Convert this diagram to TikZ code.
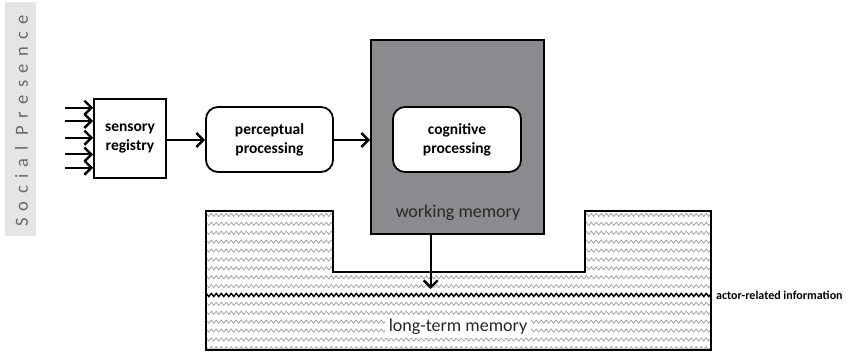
\documentclass[tikz,border=0pt]{standalone}
\usepackage{fontspec}
\setmainfont{Carlito}
\newfontfamily\spacedfont[LetterSpace=40]{Carlito}
\usetikzlibrary{arrows.meta,decorations.pathmorphing}
\definecolor{wmgray}{RGB}{138,139,143}
\definecolor{barbg}{RGB}{229,229,229}
\definecolor{zzgray}{RGB}{155,155,155}
\definecolor{sptext}{RGB}{105,105,105}
\definecolor{wmtext}{RGB}{40,40,40}
\begin{document}
\begin{tikzpicture}[x=1pt,y=-1pt,
  boxline/.style={draw=black,line width=1.8pt},
  sqbox/.style={boxline,inner sep=0pt,align=center,font=\fontsize{15.5}{19}\selectfont\bfseries},
  rbox/.style={sqbox,rounded corners=12pt,fill=white},
  arr/.style={line width=2pt,-{Straight Barb[length=7pt,width=14pt,line width=2.4pt]}},
  zz/.style={draw=zzgray,line width=0.7pt,decorate,decoration={zigzag,segment length=5pt,amplitude=1.6pt}},
  thickzz/.style={draw=black,line width=1.4pt,decorate,decoration={zigzag,segment length=5pt,amplitude=1.6pt}},
]
\useasboundingbox (0,0) rectangle (857,352);

% Social presence bar
\fill[barbg] (5,2) rectangle (36,236);
\node[rotate=90,text=sptext,font=\fontsize{18.5}{20}\selectfont] (sp) at (21.5,121) {\spacedfont Social Presence};

% long-term memory shape
\begin{scope}
  \clip (206,211) -- (333,211) -- (333,272) -- (585,272) -- (585,211) -- (711,211) -- (711,350) -- (206,350) -- cycle;
  \foreach \i in {0,...,8} \draw[zz] (200,{215+8.89*\i}) -- (720,{215+8.89*\i});
  \foreach \i in {1,...,6} \draw[zz] (200,{295+8.89*\i}) -- (720,{295+8.89*\i});
  \draw[thickzz] (200,295) -- (720,295);
\end{scope}
\draw[boxline,line join=miter] (206,211) -- (333,211) -- (333,272) -- (585,272) -- (585,211) -- (711,211) -- (711,350) -- (206,350) -- cycle;
\node[fill=white,inner xsep=4pt,inner ysep=3pt,font=\fontsize{18}{20}\selectfont,text=wmtext] (ltm) at (458,327) {long-term memory};
\node[anchor=west,font=\fontsize{12}{14}\selectfont\bfseries,inner sep=0pt] (actor) at (716,295) {actor-related information};

% boxes
\node[sqbox,minimum width=72pt,minimum height=79pt] (sens) at (130,138.5) {sensory\\registry};
\node[rbox,minimum width=127pt,minimum height=65pt] (perc) at (269.5,139.5) {perceptual\\processing};
\node[boxline,fill=wmgray,minimum width=173pt,minimum height=194pt,inner sep=0pt] (wm) at (457.5,137) {};
\node[rbox,minimum width=128pt,minimum height=65pt] (cog) at (457,139.5) {cognitive\\processing};
\node[font=\fontsize{18}{20}\selectfont,text=wmtext] (wmlabel) at (458,213) {working memory};

% input arrows
\foreach \y [count=\k] in {107.7,121,137.7,154.5,167.7} {
  \coordinate (in\k) at (65,\y);
  \draw[arr] (in\k) -- (in\k -| sens.west);
}
\draw[arr] (sens.east |- 0,140) -- (perc.west |- 0,140);
\draw[arr] (perc.east |- 0,140) -- (wm.west |- 0,140);
\coordinate (ltmtarget) at (430.7,289);
\draw[arr] (wm.south -| ltmtarget) -- (ltmtarget);
\end{tikzpicture}
\end{document}
